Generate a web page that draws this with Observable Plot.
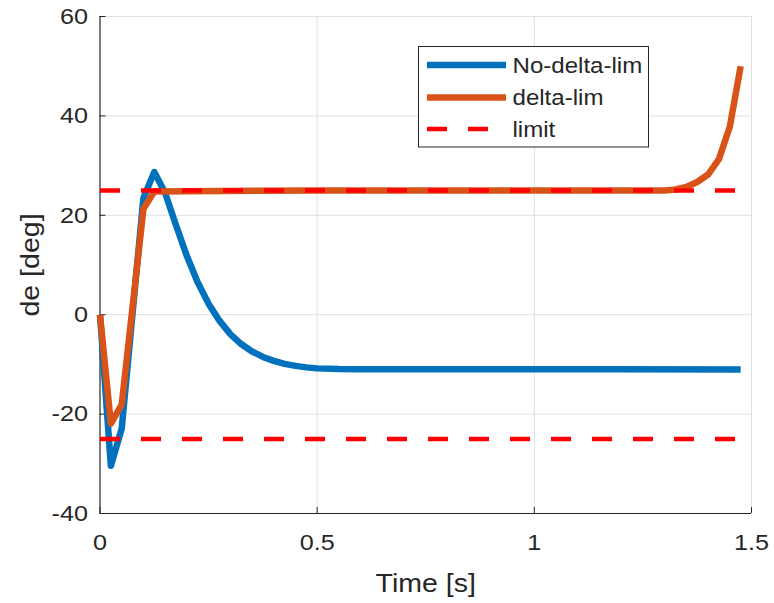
<!DOCTYPE html>
<html>
<head>
<meta charset="utf-8">
<script src="https://cdn.jsdelivr.net/npm/d3@7"></script>
<script src="https://cdn.jsdelivr.net/npm/@observablehq/plot@0.6"></script>
<style>
  html, body { margin: 0; padding: 0; background: #fff; }
  #chart { width: 774px; height: 603px; }
</style>
</head>
<body>
<div id="chart"></div>
<script>
// Elevator deflection response, with and without the deflection limiter
const noLimTime = [0, 0.025, 0.05, 0.1, 0.125, 0.15, 0.175, 0.2, 0.225, 0.25, 0.275, 0.3, 0.325, 0.35, 0.375, 0.4, 0.425, 0.45, 0.475, 0.5, 0.55, 0.6, 0.8, 1.0, 1.2, 1.475];
const noLimDe   = [0, -30.4, -22.9, 23.5, 28.7, 24.5, 18.0, 11.8, 6.5, 2.2, -1.2, -3.9, -5.9, -7.4, -8.5, -9.3, -9.9, -10.3, -10.6, -10.8, -10.95, -11.0, -11.0, -11.0, -11.0, -11.05];

const limTime = [0, 0.025, 0.05, 0.1, 0.125, 0.5, 1.0, 1.3, 1.325, 1.35, 1.375, 1.4, 1.425, 1.45, 1.475];
const limDe   = [0, -21.9, -18.1, 21.3, 24.8, 25.0, 25.0, 25.0, 25.2, 25.7, 26.7, 28.2, 31.3, 37.8, 50.0];

const limitValues = [25, -25];
const limitSpan = [0, 1.475];

const seriesNames = ["No-delta-lim", "delta-lim", "limit"];
const seriesColors = ["#0072BD", "#D95319", "#FF0000"];

const xTicks = [0, 0.5, 1, 1.5];
const xTickLabels = ["0", "0.5", "1", "1.5"];
const yTicks = [-40, -20, 0, 20, 40, 60];
const yTickLabels = ["-40", "-20", "0", "20", "40", "60"];

const xLabel = "Time [s]";
const yLabel = "de [deg]";

// tables for the marks
const noLim = noLimTime.map((t, i) => ({t, de: noLimDe[i]}));
const lim = limTime.map((t, i) => ({t, de: limDe[i]}));
const limits = limitValues.flatMap(v => limitSpan.map(t => ({t, de: v, key: v})));

const W = 774, H = 603;
const mL = 99.5, mR = 23, mT = 16, mB = 90;
const innerW = W - mL - mR, innerH = H - mT - mB;
const ink = "#262626";
const gridColor = "#e0e0e0";
const font = "'Liberation Sans', Arial, Helvetica, sans-serif";
const textStretch = 1.12; // text is set slightly wide

const fmtX = d => xTickLabels[xTicks.indexOf(d)];
const fmtY = d => yTickLabels[yTicks.indexOf(d)];

const svg = Plot.plot({
  width: W,
  height: H,
  marginLeft: mL,
  marginRight: mR,
  marginTop: mT,
  marginBottom: mB,
  style: {fontFamily: font, color: ink, background: "#fff", overflow: "visible"},
  x: {domain: [0, 1.5]},
  y: {domain: [-40, 60]},
  marks: [
    // grid
    Plot.ruleX(xTicks.filter(d => d > 0), {stroke: gridColor, strokeWidth: 1}),
    Plot.ruleY(yTicks.filter(d => d > -40), {stroke: gridColor, strokeWidth: 1}),
    // axis lines
    Plot.ruleX([0], {stroke: ink, strokeWidth: 1.2}),
    Plot.ruleY([-40], {stroke: ink, strokeWidth: 1.2}),
    // inward ticks
    Plot.tickX(xTicks, {x: d => d, stroke: ink, strokeWidth: 1, insetTop: innerH - 6}),
    Plot.tickY(yTicks, {y: d => d, stroke: ink, strokeWidth: 1, insetRight: innerW - 6}),
    // tick labels
    Plot.axisX(xTicks, {tickSize: 0, tickPadding: 21, fontSize: 22.5, tickFormat: fmtX, label: null}),
    Plot.axisY(yTicks, {tickSize: 0, tickPadding: 12, fontSize: 22.5, tickFormat: fmtY, label: null}),
    // axis titles
    Plot.text([xLabel], {text: d => d, frameAnchor: "bottom", dy: 70, fontSize: 25.5, lineAnchor: "middle", textAnchor: "middle", fill: ink}),
    Plot.text([yLabel], {text: d => d, frameAnchor: "left", dx: -69, rotate: -90, fontSize: 25.5, lineAnchor: "middle", textAnchor: "middle", fill: ink}),
    // series
    Plot.line(noLim, {x: "t", y: "de", stroke: seriesColors[0], strokeWidth: 6.5, strokeLinejoin: "round", strokeLinecap: "butt"}),
    Plot.line(lim, {x: "t", y: "de", stroke: seriesColors[1], strokeWidth: 6.5, strokeLinejoin: "round", strokeLinecap: "butt"}),
    Plot.line(limits, {x: "t", y: "de", z: "key", stroke: seriesColors[2], strokeWidth: 4.6, strokeDasharray: "20,21", strokeLinecap: "butt"})
  ]
});

// widen the axis labels horizontally about their anchor points
d3.select(svg).selectAll("text").each(function () {
  const t = this.getAttribute("transform") || "";
  this.setAttribute("transform", `${t} scale(${textStretch},1)`);
});

// legend box in the upper right of the axes
const leg = d3.select(svg).append("g").attr("class", "legend");
leg.append("rect")
  .attr("x", 418.5).attr("y", 46.5).attr("width", 230).attr("height", 100.5)
  .attr("fill", "#fff").attr("stroke", ink).attr("stroke-width", 1);
const rowY = [65, 97.5, 129];
const widths = [6.5, 6.5, 4.6];
const dashes = [null, null, "20,21"];
seriesNames.forEach((name, i) => {
  leg.append("line")
    .attr("x1", 427).attr("x2", 506)
    .attr("y1", rowY[i]).attr("y2", rowY[i])
    .attr("stroke", seriesColors[i])
    .attr("stroke-width", widths[i])
    .attr("stroke-dasharray", dashes[i]);
  leg.append("text")
    .attr("transform", `translate(512.5,${rowY[i] + 7.7}) scale(${textStretch},1)`)
    .attr("text-anchor", "start")
    .attr("font-size", 21.5)
    .attr("fill", ink)
    .attr("font-family", font)
    .text(name);
});

document.getElementById("chart").appendChild(svg);
</script>
</body>
</html>
